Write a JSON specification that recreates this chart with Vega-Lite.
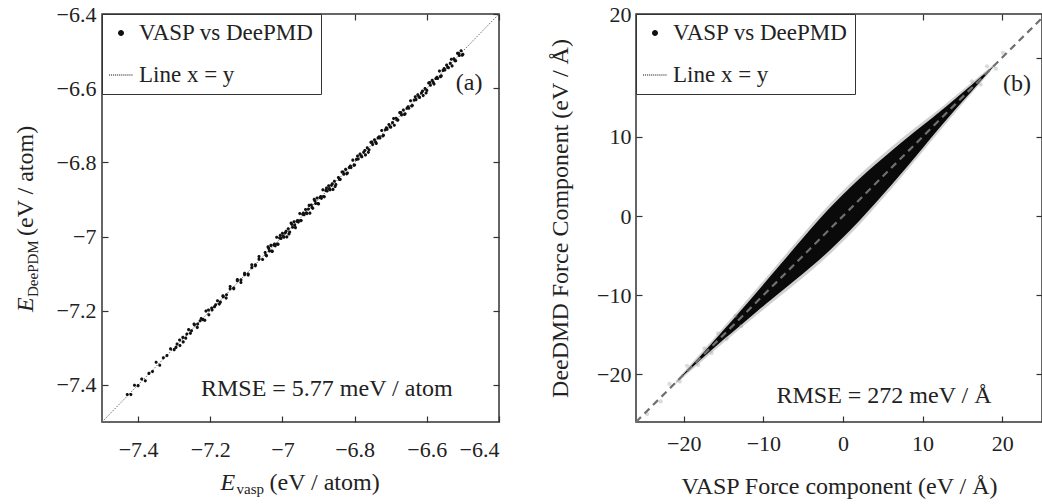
{
  "$schema": "https://vega.github.io/schema/vega-lite/v6.json",
  "background": "white",
  "padding": {"left": 13, "top": 2, "right": 0, "bottom": 0},
  "bounds": "flush",
  "spacing": 137,
  "datasets": {
    "energy": [
      {"ev": -7.43, "ed": -7.426}, {"ev": -7.42, "ed": -7.426}, {"ev": -7.41, "ed": -7.401}, {"ev": -7.40, "ed": -7.402},
      {"ev": -7.39, "ed": -7.384}, {"ev": -7.38, "ed": -7.389}, {"ev": -7.37, "ed": -7.369}, {"ev": -7.36, "ed": -7.364},
      {"ev": -7.35, "ed": -7.339}, {"ev": -7.34, "ed": -7.347}, {"ev": -7.33, "ed": -7.327}, {"ev": -7.32, "ed": -7.321},
      {"ev": -7.31, "ed": -7.303}, {"ev": -7.30, "ed": -7.305},
      {"ev": -7.292, "ed": -7.290}, {"ev": -7.284, "ed": -7.294}, {"ev": -7.276, "ed": -7.272}, {"ev": -7.268, "ed": -7.274},
      {"ev": -7.260, "ed": -7.251}, {"ev": -7.252, "ed": -7.254}, {"ev": -7.244, "ed": -7.238}, {"ev": -7.236, "ed": -7.245},
      {"ev": -7.228, "ed": -7.227}, {"ev": -7.220, "ed": -7.224}, {"ev": -7.212, "ed": -7.201}, {"ev": -7.204, "ed": -7.211},
      {"ev": -7.196, "ed": -7.193}, {"ev": -7.188, "ed": -7.189}, {"ev": -7.180, "ed": -7.173}, {"ev": -7.172, "ed": -7.177},
      {"ev": -7.164, "ed": -7.162}, {"ev": -7.156, "ed": -7.166},
      {"ev": -7.145, "ed": -7.141}, {"ev": -7.135, "ed": -7.141}, {"ev": -7.125, "ed": -7.116}, {"ev": -7.115, "ed": -7.117},
      {"ev": -7.105, "ed": -7.099}, {"ev": -7.095, "ed": -7.104}, {"ev": -7.085, "ed": -7.084}, {"ev": -7.075, "ed": -7.079},
      {"ev": -7.065, "ed": -7.054}, {"ev": -7.055, "ed": -7.062},
      {"ev": -7.295, "ed": -7.299}, {"ev": -7.285, "ed": -7.279}, {"ev": -7.275, "ed": -7.284}, {"ev": -7.265, "ed": -7.263},
      {"ev": -7.255, "ed": -7.261}, {"ev": -7.245, "ed": -7.236}, {"ev": -7.235, "ed": -7.236}, {"ev": -7.225, "ed": -7.221},
      {"ev": -7.215, "ed": -7.226}, {"ev": -7.205, "ed": -7.198}, {"ev": -7.195, "ed": -7.198}, {"ev": -7.185, "ed": -7.184},
      {"ev": -7.175, "ed": -7.182}, {"ev": -7.165, "ed": -7.160}, {"ev": -7.155, "ed": -7.157}, {"ev": -7.145, "ed": -7.135},
      {"ev": -7.135, "ed": -7.139}, {"ev": -7.125, "ed": -7.119}, {"ev": -7.115, "ed": -7.124}, {"ev": -7.105, "ed": -7.103},
      {"ev": -7.095, "ed": -7.101}, {"ev": -7.085, "ed": -7.076}, {"ev": -7.075, "ed": -7.076}, {"ev": -7.065, "ed": -7.061},
      {"ev": -7.048, "ed": -7.043}, {"ev": -7.044, "ed": -7.052}, {"ev": -7.040, "ed": -7.028}, {"ev": -7.036, "ed": -7.039},
      {"ev": -7.032, "ed": -7.024}, {"ev": -7.028, "ed": -7.040}, {"ev": -7.024, "ed": -7.023}, {"ev": -7.020, "ed": -7.025},
      {"ev": -7.016, "ed": -7.002}, {"ev": -7.012, "ed": -7.021}, {"ev": -7.008, "ed": -7.004}, {"ev": -7.004, "ed": -7.005},
      {"ev": -7.000, "ed": -6.991}, {"ev": -6.996, "ed": -7.002}, {"ev": -6.992, "ed": -6.990}, {"ev": -6.988, "ed": -7.001},
      {"ev": -6.984, "ed": -6.979}, {"ev": -6.980, "ed": -6.988}, {"ev": -6.976, "ed": -6.964}, {"ev": -6.972, "ed": -6.975},
      {"ev": -6.968, "ed": -6.960}, {"ev": -6.964, "ed": -6.976}, {"ev": -6.960, "ed": -6.959}, {"ev": -6.956, "ed": -6.961},
      {"ev": -6.952, "ed": -6.938}, {"ev": -6.948, "ed": -6.957}, {"ev": -6.944, "ed": -6.940}, {"ev": -6.940, "ed": -6.941},
      {"ev": -6.936, "ed": -6.927}, {"ev": -6.932, "ed": -6.938}, {"ev": -6.928, "ed": -6.926}, {"ev": -6.924, "ed": -6.937},
      {"ev": -6.920, "ed": -6.915}, {"ev": -6.916, "ed": -6.924}, {"ev": -6.912, "ed": -6.900}, {"ev": -6.908, "ed": -6.911},
      {"ev": -6.904, "ed": -6.896}, {"ev": -6.900, "ed": -6.912}, {"ev": -6.896, "ed": -6.895}, {"ev": -6.892, "ed": -6.897},
      {"ev": -6.888, "ed": -6.874}, {"ev": -6.884, "ed": -6.893}, {"ev": -6.880, "ed": -6.876}, {"ev": -6.876, "ed": -6.877},
      {"ev": -6.872, "ed": -6.863}, {"ev": -6.868, "ed": -6.874}, {"ev": -6.864, "ed": -6.862}, {"ev": -6.860, "ed": -6.873},
      {"ev": -6.856, "ed": -6.851}, {"ev": -6.852, "ed": -6.860},
      {"ev": -7.046, "ed": -7.050}, {"ev": -7.038, "ed": -7.032}, {"ev": -7.030, "ed": -7.039}, {"ev": -7.022, "ed": -7.020},
      {"ev": -7.014, "ed": -7.020}, {"ev": -7.006, "ed": -6.997}, {"ev": -6.998, "ed": -6.999}, {"ev": -6.990, "ed": -6.986},
      {"ev": -6.982, "ed": -6.993}, {"ev": -6.974, "ed": -6.967}, {"ev": -6.966, "ed": -6.969}, {"ev": -6.958, "ed": -6.957},
      {"ev": -6.950, "ed": -6.957}, {"ev": -6.942, "ed": -6.937}, {"ev": -6.934, "ed": -6.936}, {"ev": -6.926, "ed": -6.916},
      {"ev": -6.918, "ed": -6.922}, {"ev": -6.910, "ed": -6.904}, {"ev": -6.902, "ed": -6.911}, {"ev": -6.894, "ed": -6.892},
      {"ev": -6.886, "ed": -6.892}, {"ev": -6.878, "ed": -6.869}, {"ev": -6.870, "ed": -6.871}, {"ev": -6.862, "ed": -6.858},
      {"ev": -6.854, "ed": -6.865},
      {"ev": -6.845, "ed": -6.841}, {"ev": -6.840, "ed": -6.846}, {"ev": -6.835, "ed": -6.826}, {"ev": -6.830, "ed": -6.832},
      {"ev": -6.825, "ed": -6.819}, {"ev": -6.820, "ed": -6.829}, {"ev": -6.815, "ed": -6.814}, {"ev": -6.810, "ed": -6.814},
      {"ev": -6.805, "ed": -6.794}, {"ev": -6.800, "ed": -6.807}, {"ev": -6.795, "ed": -6.792}, {"ev": -6.790, "ed": -6.791},
      {"ev": -6.785, "ed": -6.778}, {"ev": -6.780, "ed": -6.785}, {"ev": -6.775, "ed": -6.773}, {"ev": -6.770, "ed": -6.780},
      {"ev": -6.765, "ed": -6.761}, {"ev": -6.760, "ed": -6.766}, {"ev": -6.755, "ed": -6.746}, {"ev": -6.750, "ed": -6.752},
      {"ev": -6.745, "ed": -6.739}, {"ev": -6.740, "ed": -6.749}, {"ev": -6.735, "ed": -6.734}, {"ev": -6.730, "ed": -6.734},
      {"ev": -6.725, "ed": -6.714}, {"ev": -6.720, "ed": -6.727}, {"ev": -6.715, "ed": -6.712}, {"ev": -6.710, "ed": -6.711},
      {"ev": -6.705, "ed": -6.698}, {"ev": -6.700, "ed": -6.705}, {"ev": -6.695, "ed": -6.693}, {"ev": -6.690, "ed": -6.700},
      {"ev": -6.685, "ed": -6.681}, {"ev": -6.680, "ed": -6.686}, {"ev": -6.675, "ed": -6.666}, {"ev": -6.670, "ed": -6.672},
      {"ev": -6.665, "ed": -6.659}, {"ev": -6.660, "ed": -6.669}, {"ev": -6.655, "ed": -6.654}, {"ev": -6.650, "ed": -6.654},
      {"ev": -6.645, "ed": -6.634}, {"ev": -6.640, "ed": -6.647}, {"ev": -6.635, "ed": -6.632}, {"ev": -6.630, "ed": -6.631},
      {"ev": -6.625, "ed": -6.618}, {"ev": -6.620, "ed": -6.625}, {"ev": -6.615, "ed": -6.613}, {"ev": -6.610, "ed": -6.620},
      {"ev": -6.605, "ed": -6.601}, {"ev": -6.600, "ed": -6.606}, {"ev": -6.595, "ed": -6.586}, {"ev": -6.590, "ed": -6.592},
      {"ev": -6.585, "ed": -6.579}, {"ev": -6.580, "ed": -6.589}, {"ev": -6.575, "ed": -6.574}, {"ev": -6.570, "ed": -6.574},
      {"ev": -6.565, "ed": -6.554}, {"ev": -6.560, "ed": -6.567}, {"ev": -6.555, "ed": -6.552}, {"ev": -6.550, "ed": -6.551},
      {"ev": -6.545, "ed": -6.538}, {"ev": -6.540, "ed": -6.545}, {"ev": -6.535, "ed": -6.533}, {"ev": -6.530, "ed": -6.540},
      {"ev": -6.525, "ed": -6.521}, {"ev": -6.520, "ed": -6.526}, {"ev": -6.515, "ed": -6.506}, {"ev": -6.510, "ed": -6.512},
      {"ev": -6.505, "ed": -6.499}, {"ev": -6.500, "ed": -6.509},
      {"ev": -6.842, "ed": -6.846}, {"ev": -6.832, "ed": -6.826}, {"ev": -6.822, "ed": -6.831}, {"ev": -6.812, "ed": -6.810},
      {"ev": -6.802, "ed": -6.808}, {"ev": -6.792, "ed": -6.783}, {"ev": -6.782, "ed": -6.783}, {"ev": -6.772, "ed": -6.768},
      {"ev": -6.762, "ed": -6.773}, {"ev": -6.752, "ed": -6.745}, {"ev": -6.742, "ed": -6.745}, {"ev": -6.732, "ed": -6.731},
      {"ev": -6.722, "ed": -6.729}, {"ev": -6.712, "ed": -6.707}, {"ev": -6.702, "ed": -6.704}, {"ev": -6.692, "ed": -6.682},
      {"ev": -6.682, "ed": -6.686}, {"ev": -6.672, "ed": -6.666}, {"ev": -6.662, "ed": -6.671}, {"ev": -6.652, "ed": -6.650},
      {"ev": -6.642, "ed": -6.648}, {"ev": -6.632, "ed": -6.623}, {"ev": -6.622, "ed": -6.623}, {"ev": -6.612, "ed": -6.608},
      {"ev": -6.602, "ed": -6.613}, {"ev": -6.592, "ed": -6.585}, {"ev": -6.582, "ed": -6.585}, {"ev": -6.572, "ed": -6.571},
      {"ev": -6.562, "ed": -6.569}, {"ev": -6.552, "ed": -6.547}, {"ev": -6.542, "ed": -6.544}, {"ev": -6.532, "ed": -6.522},
      {"ev": -6.522, "ed": -6.526}, {"ev": -6.512, "ed": -6.506}, {"ev": -6.502, "ed": -6.511}
    ],
    "force": [
      {"fx": -21, "lo": -21.0, "hi": -21.0, "lo2": -21.2, "hi2": -20.8},
      {"fx": -19, "lo": -19.15, "hi": -18.85, "lo2": -19.45, "hi2": -18.55},
      {"fx": -17, "lo": -17.35, "hi": -16.65, "lo2": -17.7, "hi2": -16.3},
      {"fx": -15, "lo": -15.6, "hi": -14.4, "lo2": -16.0, "hi2": -14.0},
      {"fx": -13, "lo": -13.9, "hi": -12.1, "lo2": -14.3, "hi2": -11.7},
      {"fx": -11, "lo": -12.2, "hi": -9.8, "lo2": -12.65, "hi2": -9.35},
      {"fx": -9, "lo": -10.55, "hi": -7.45, "lo2": -11.0, "hi2": -7.0},
      {"fx": -7, "lo": -8.9, "hi": -5.1, "lo2": -9.4, "hi2": -4.6},
      {"fx": -5, "lo": -7.25, "hi": -2.75, "lo2": -7.75, "hi2": -2.25},
      {"fx": -3, "lo": -5.55, "hi": -0.45, "lo2": -6.05, "hi2": 0.05},
      {"fx": -1, "lo": -3.7, "hi": 1.7, "lo2": -4.2, "hi2": 2.2},
      {"fx": 1, "lo": -1.7, "hi": 3.7, "lo2": -2.2, "hi2": 4.2},
      {"fx": 3, "lo": 0.45, "hi": 5.55, "lo2": -0.05, "hi2": 6.05},
      {"fx": 5, "lo": 2.7, "hi": 7.3, "lo2": 2.2, "hi2": 7.8},
      {"fx": 7, "lo": 5.0, "hi": 9.0, "lo2": 4.5, "hi2": 9.5},
      {"fx": 9, "lo": 7.35, "hi": 10.65, "lo2": 6.9, "hi2": 11.1},
      {"fx": 11, "lo": 9.8, "hi": 12.2, "lo2": 9.35, "hi2": 12.65},
      {"fx": 13, "lo": 12.15, "hi": 13.85, "lo2": 11.75, "hi2": 14.25},
      {"fx": 15, "lo": 14.45, "hi": 15.55, "lo2": 14.1, "hi2": 15.9},
      {"fx": 17, "lo": 16.7, "hi": 17.3, "lo2": 16.45, "hi2": 17.55},
      {"fx": 19, "lo": 19.0, "hi": 19.0, "lo2": 18.8, "hi2": 19.2}
    ],
    "forceTail": [
      {"fx": -24.6, "fy": -25.0}, {"fx": -22.9, "fy": -23.4}, {"fx": -21.8, "fy": -21.2}, {"fx": -20.5, "fy": -20.9},
      {"fx": -19.6, "fy": -18.9}, {"fx": -18.2, "fy": -18.8}, {"fx": -17.4, "fy": -16.7}, {"fx": -16.5, "fy": -17.3},
      {"fx": -15.7, "fy": -14.8}, {"fx": -14.6, "fy": -15.5}, {"fx": -13.5, "fy": -12.6}, {"fx": -12.8, "fy": -13.9},
      {"fx": 16.2, "fy": 17.0}, {"fx": 17.3, "fy": 16.6}, {"fx": 18.1, "fy": 18.9}, {"fx": 19.2, "fy": 18.6},
      {"fx": 20.1, "fy": 20.6}
    ]
  },
  "hconcat": [
    {
      "width": 397,
      "height": 408,
      "layer": [
        {
          "data": {"values": [{"ev": -7.5, "ed": -7.5}, {"ev": -6.4, "ed": -6.4}]},
          "mark": {"type": "line", "color": "#666", "strokeWidth": 1, "strokeDash": [1.5, 1.5]},
          "encoding": {
            "x": {"field": "ev", "type": "quantitative", "scale": {"domain": [-7.5, -6.4], "nice": false, "zero": false},
                  "axis": {"values": [-7.4, -7.2, -7, -6.8, -6.6, -6.4], "format": "~g", "labelPadding": 23, "title": null}},
            "y": {"field": "ed", "type": "quantitative", "scale": {"domain": [-7.5, -6.4], "nice": false, "zero": false},
                  "axis": {"values": [-7.4, -7.2, -7, -6.8, -6.6, -6.4], "format": "~g", "labelPadding": 12, "title": null}}
          }
        },
        {
          "data": {"name": "energy"},
          "mark": {"type": "point", "filled": true, "color": "#111", "size": 160, "opacity": 1},
          "encoding": {
            "x": {"field": "ev", "type": "quantitative", "scale": {"domain": [-7.5, -6.4], "nice": false, "zero": false}, "axis": null},
            "y": {"field": "ed", "type": "quantitative", "scale": {"domain": [-7.5, -6.4], "nice": false, "zero": false}, "axis": null},
            "shape": {
              "datum": "VASP vs DeePMD", "type": "nominal",
              "scale": {"domain": ["VASP vs DeePMD", "Line x = y"], "range": ["M-0.25,0A0.25,0.25,0,1,1,0.25,0A0.25,0.25,0,1,1,-0.25,0Z", "M-1,-0.045h0.09v0.09h-0.09Z M-0.83,-0.045h0.09v0.09h-0.09Z M-0.66,-0.045h0.09v0.09h-0.09Z M-0.49,-0.045h0.09v0.09h-0.09Z M-0.32,-0.045h0.09v0.09h-0.09Z M-0.15,-0.045h0.09v0.09h-0.09Z M0.02,-0.045h0.09v0.09h-0.09Z M0.19,-0.045h0.09v0.09h-0.09Z M0.36,-0.045h0.09v0.09h-0.09Z M0.53,-0.045h0.09v0.09h-0.09Z M0.7,-0.045h0.09v0.09h-0.09Z M0.87,-0.045h0.09v0.09h-0.09Z"]},
              "legend": {"title": null, "labelExpr": "datum.label + '\u00a0\u00a0\u00a0\u00a0\u00a0\u00a0'", "symbolSize": 576}
            }
          }
        },
        {
          "data": {"values": [{}]},
          "mark": {"type": "text", "text": "(a)", "fontSize": 24, "color": "#222", "align": "center", "baseline": "middle"},
          "encoding": {
            "x": {"datum": -6.483, "type": "quantitative", "scale": {"domain": [-7.5, -6.4], "nice": false, "zero": false},
                  "axis": {"orient": "top", "values": [-7.4, -7.2, -7, -6.8, -6.6, -6.4], "labels": false, "title": null}},
            "y": {"datum": -6.587, "type": "quantitative", "scale": {"domain": [-7.5, -6.4], "nice": false, "zero": false},
                  "axis": {"orient": "right", "values": [-7.4, -7.2, -7, -6.8, -6.6, -6.4], "labels": false, "title": null}}
          }
        },
        {
          "data": {"values": [{}]},
          "mark": {"type": "text", "text": "RMSE = 5.77 meV / atom", "fontSize": 24, "color": "#222", "align": "center", "baseline": "middle"},
          "encoding": {
            "x": {"datum": -6.877, "type": "quantitative", "scale": {"domain": [-7.5, -6.4], "nice": false, "zero": false}, "axis": null},
            "y": {"datum": -7.411, "type": "quantitative", "scale": {"domain": [-7.5, -6.4], "nice": false, "zero": false}, "axis": null}
          }
        },
        {
          "data": {"values": [{}]},
          "mark": {"type": "text", "text": "E", "fontStyle": "italic", "fontSize": 24, "color": "#222", "align": "left", "baseline": "alphabetic", "dx": -80, "dy": 68},
          "encoding": {
            "x": {"datum": -6.95, "type": "quantitative", "scale": {"domain": [-7.5, -6.4], "nice": false, "zero": false}, "axis": null},
            "y": {"datum": -7.5, "type": "quantitative", "scale": {"domain": [-7.5, -6.4], "nice": false, "zero": false}, "axis": null}
          }
        },
        {
          "data": {"values": [{}]},
          "mark": {"type": "text", "text": "vasp", "fontSize": 15, "color": "#222", "align": "left", "baseline": "alphabetic", "dx": -64, "dy": 72},
          "encoding": {
            "x": {"datum": -6.95, "type": "quantitative", "scale": {"domain": [-7.5, -6.4], "nice": false, "zero": false}, "axis": null},
            "y": {"datum": -7.5, "type": "quantitative", "scale": {"domain": [-7.5, -6.4], "nice": false, "zero": false}, "axis": null}
          }
        },
        {
          "data": {"values": [{}]},
          "mark": {"type": "text", "text": "(eV / atom)", "fontSize": 24, "color": "#222", "align": "left", "baseline": "alphabetic", "dx": -31, "dy": 68},
          "encoding": {
            "x": {"datum": -6.95, "type": "quantitative", "scale": {"domain": [-7.5, -6.4], "nice": false, "zero": false}, "axis": null},
            "y": {"datum": -7.5, "type": "quantitative", "scale": {"domain": [-7.5, -6.4], "nice": false, "zero": false}, "axis": null}
          }
        },
        {
          "data": {"values": [{}]},
          "mark": {"type": "text", "text": "E", "fontStyle": "italic", "fontSize": 24, "color": "#222", "align": "left", "baseline": "alphabetic", "angle": 270, "dx": -94, "dy": -69},
          "encoding": {
            "x": {"datum": -7.5, "type": "quantitative", "scale": {"domain": [-7.5, -6.4], "nice": false, "zero": false}, "axis": null},
            "y": {"datum": -6.95, "type": "quantitative", "scale": {"domain": [-7.5, -6.4], "nice": false, "zero": false}, "axis": null}
          }
        },
        {
          "data": {"values": [{}]},
          "mark": {"type": "text", "text": "DeePDM", "fontSize": 15, "color": "#222", "align": "left", "baseline": "alphabetic", "angle": 270, "dx": -79, "dy": -64},
          "encoding": {
            "x": {"datum": -7.5, "type": "quantitative", "scale": {"domain": [-7.5, -6.4], "nice": false, "zero": false}, "axis": null},
            "y": {"datum": -6.95, "type": "quantitative", "scale": {"domain": [-7.5, -6.4], "nice": false, "zero": false}, "axis": null}
          }
        },
        {
          "data": {"values": [{}]},
          "mark": {"type": "text", "text": "(eV / atom)", "fontSize": 24, "color": "#222", "align": "left", "baseline": "alphabetic", "angle": 270, "dx": -18, "dy": -69},
          "encoding": {
            "x": {"datum": -7.5, "type": "quantitative", "scale": {"domain": [-7.5, -6.4], "nice": false, "zero": false}, "axis": null},
            "y": {"datum": -6.95, "type": "quantitative", "scale": {"domain": [-7.5, -6.4], "nice": false, "zero": false}, "axis": null}
          }
        }
      ],
      "resolve": {"axis": {"x": "independent", "y": "independent"}}
    },
    {
      "width": 406,
      "height": 408,
      "layer": [
        {
          "data": {"name": "force"},
          "mark": {"type": "area", "color": "#000", "opacity": 0.18, "interpolate": "monotone"},
          "encoding": {
            "x": {"field": "fx", "type": "quantitative", "scale": {"domain": [-26, 25], "nice": false, "zero": false},
                  "axis": {"values": [-20, -10, 0, 10, 20], "labelPadding": 17, "title": "VASP Force component (eV / Å)", "titlePadding": 20}},
            "y": {"field": "lo2", "type": "quantitative", "scale": {"domain": [-26, 25.5], "nice": false, "zero": false},
                  "axis": {"values": [-20, -10, 0, 10, 25.5], "labelExpr": "datum.value > 25 ? '20' : datum.label", "labelPadding": 11, "title": "DeeDMD Force Component (eV / Å)", "titlePadding": 24}},
            "y2": {"field": "hi2"}
          }
        },
        {
          "data": {"name": "force"},
          "mark": {"type": "area", "color": "#0a0a0a", "opacity": 1, "interpolate": "monotone"},
          "encoding": {
            "x": {"field": "fx", "type": "quantitative", "scale": {"domain": [-26, 25], "nice": false, "zero": false}, "axis": null},
            "y": {"field": "lo", "type": "quantitative", "scale": {"domain": [-26, 25.5], "nice": false, "zero": false}, "axis": null},
            "y2": {"field": "hi"}
          }
        },
        {
          "data": {"name": "forceTail"},
          "mark": {"type": "point", "filled": true, "color": "#999", "size": 18, "opacity": 0.35},
          "encoding": {
            "x": {"field": "fx", "type": "quantitative", "scale": {"domain": [-26, 25], "nice": false, "zero": false}, "axis": null},
            "y": {"field": "fy", "type": "quantitative", "scale": {"domain": [-26, 25.5], "nice": false, "zero": false}, "axis": null}
          }
        },
        {
          "data": {"values": []},
          "mark": {"type": "point", "filled": true, "color": "#111", "size": 110, "opacity": 1},
          "encoding": {
            "x": {"field": "fx", "type": "quantitative", "scale": {"domain": [-26, 25], "nice": false, "zero": false}, "axis": null},
            "y": {"field": "fy", "type": "quantitative", "scale": {"domain": [-26, 25.5], "nice": false, "zero": false}, "axis": null},
            "shape": {
              "datum": "VASP vs DeePMD", "type": "nominal",
              "scale": {"domain": ["VASP vs DeePMD", "Line x = y"], "range": ["M-0.25,0A0.25,0.25,0,1,1,0.25,0A0.25,0.25,0,1,1,-0.25,0Z", "M-1,-0.045h0.09v0.09h-0.09Z M-0.83,-0.045h0.09v0.09h-0.09Z M-0.66,-0.045h0.09v0.09h-0.09Z M-0.49,-0.045h0.09v0.09h-0.09Z M-0.32,-0.045h0.09v0.09h-0.09Z M-0.15,-0.045h0.09v0.09h-0.09Z M0.02,-0.045h0.09v0.09h-0.09Z M0.19,-0.045h0.09v0.09h-0.09Z M0.36,-0.045h0.09v0.09h-0.09Z M0.53,-0.045h0.09v0.09h-0.09Z M0.7,-0.045h0.09v0.09h-0.09Z M0.87,-0.045h0.09v0.09h-0.09Z"]},
              "legend": {"title": null, "labelExpr": "datum.label + '\u00a0\u00a0\u00a0\u00a0\u00a0'", "symbolSize": 576}
            }
          }
        },
        {
          "data": {"values": [{"fx": -26, "fy": -26}, {"fx": 25, "fy": 25}]},
          "mark": {"type": "line", "color": "#707070", "strokeWidth": 2.2, "strokeDash": [7, 5]},
          "encoding": {
            "x": {"field": "fx", "type": "quantitative", "scale": {"domain": [-26, 25], "nice": false, "zero": false},
                  "axis": {"orient": "top", "values": [-20, -10, 0, 10, 20], "labels": false, "title": null}},
            "y": {"field": "fy", "type": "quantitative", "scale": {"domain": [-26, 25.5], "nice": false, "zero": false},
                  "axis": {"orient": "right", "values": [-20, -10, 0, 10, 20], "labels": false, "title": null}}
          }
        },
        {
          "data": {"values": [{}]},
          "mark": {"type": "text", "text": "(b)", "fontSize": 24, "color": "#222", "align": "center", "baseline": "middle"},
          "encoding": {
            "x": {"datum": 21.86, "type": "quantitative", "scale": {"domain": [-26, 25], "nice": false, "zero": false}, "axis": null},
            "y": {"datum": 16.66, "type": "quantitative", "scale": {"domain": [-26, 25.5], "nice": false, "zero": false}, "axis": null}
          }
        },
        {
          "data": {"values": [{}]},
          "mark": {"type": "text", "text": "RMSE = 272 meV / Å", "fontSize": 24, "color": "#222", "align": "center", "baseline": "middle"},
          "encoding": {
            "x": {"datum": 5.15, "type": "quantitative", "scale": {"domain": [-26, 25], "nice": false, "zero": false}, "axis": null},
            "y": {"datum": -22.7, "type": "quantitative", "scale": {"domain": [-26, 25.5], "nice": false, "zero": false}, "axis": null}
          }
        }
      ],
      "resolve": {"axis": {"x": "independent", "y": "independent"}}
    }
  ],
  "resolve": {"scale": {"shape": "independent"}, "legend": {"shape": "independent"}},
  "config": {
    "font": "Liberation Serif, Times New Roman, DejaVu Serif, serif",
    "text": {"font": "Liberation Serif, Times New Roman, DejaVu Serif, serif"},
    "view": {"stroke": "#333", "strokeWidth": 1.5},
    "axis": {
      "domain": false, "grid": false, "ticks": true, "tickSize": -6, "tickColor": "#333", "tickWidth": 1.2,
      "labelFont": "Liberation Serif, Times New Roman, DejaVu Serif, serif", "labelFontSize": 22, "labelColor": "#222",
      "titleFont": "Liberation Serif, Times New Roman, DejaVu Serif, serif", "titleFontSize": 24, "titleColor": "#222", "titleFontWeight": "normal"
    },
    "legend": {
      "orient": "top-left", "offset": 0, "padding": 7, "rowPadding": 18, "labelOffset": 6,
      "strokeColor": "#333", "fillColor": "white",
      "labelFont": "Liberation Serif, Times New Roman, DejaVu Serif, serif", "labelFontSize": 23, "labelColor": "#222", "labelLimit": 400,
      "symbolSize": 576, "symbolStrokeWidth": 0, "symbolFillColor": "#111", "symbolOpacity": 1
    }
  }
}
